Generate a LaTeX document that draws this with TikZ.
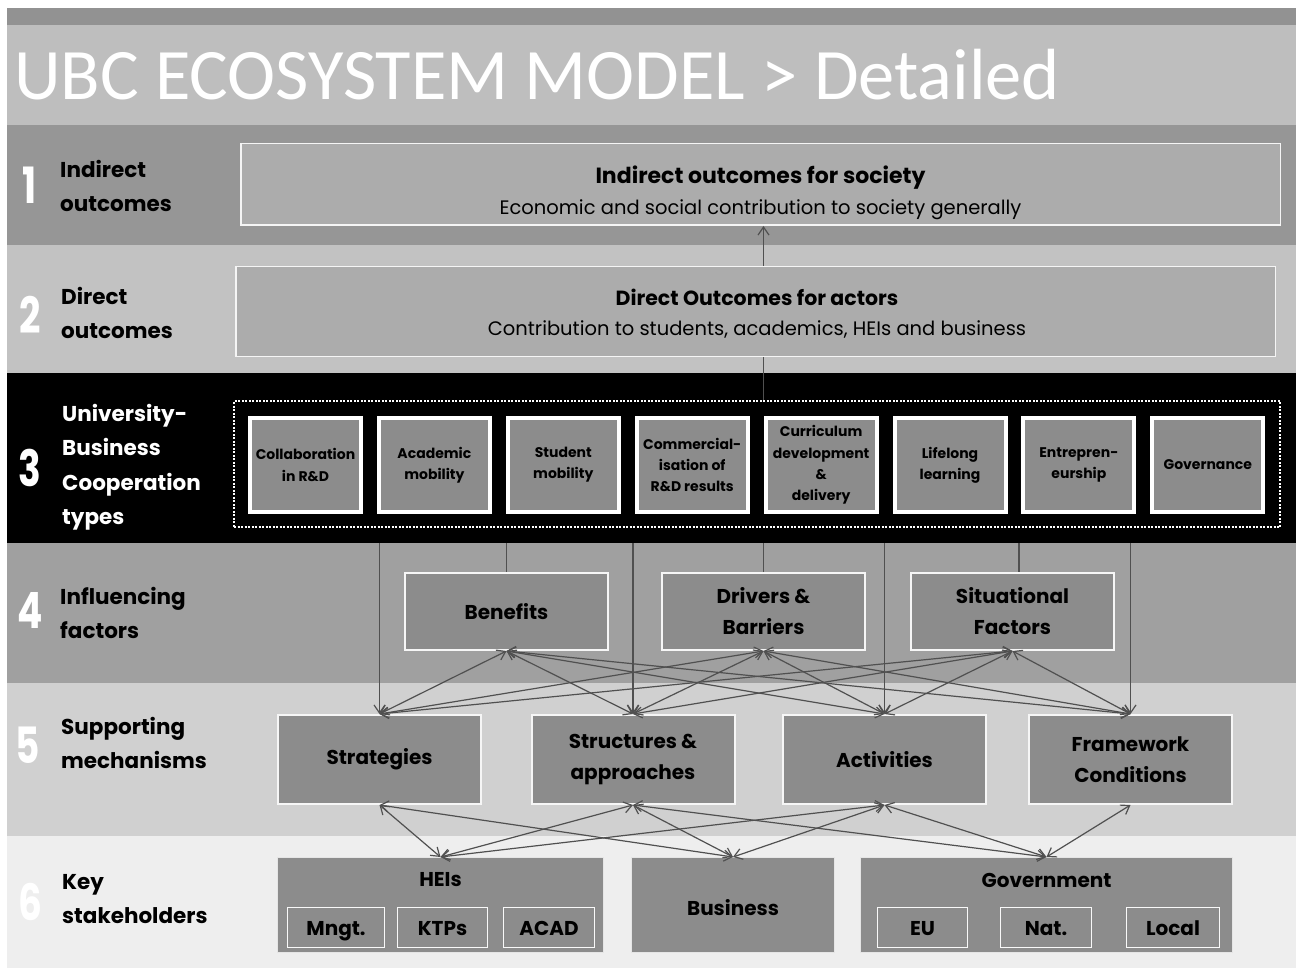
\documentclass[tikz,border=0pt]{standalone}
\usepackage{fontspec}
\setmainfont{Poppins}
\newfontfamily\titlefont{Carlito}
\newfontfamily\digitfont{Poppins}[FakeStretch=0.75]
\usetikzlibrary{arrows.meta}
\definecolor{c0}{HTML}{929292}
\definecolor{ct}{HTML}{BEBEBE}
\definecolor{c1}{HTML}{969696}
\definecolor{c2}{HTML}{C2C2C2}
\definecolor{c3}{HTML}{000000}
\definecolor{c4}{HTML}{A0A0A0}
\definecolor{c5}{HTML}{D0D0D0}
\definecolor{c6}{HTML}{EEEEEE}
\definecolor{boxg}{HTML}{8C8C8C}
\definecolor{outg}{HTML}{ACACAC}
\definecolor{lineg}{HTML}{505050}
\newcommand\setfs[2]{\fontsize{#1}{#2}\selectfont}
\tikzset{
  band/.style={fill=#1, draw=none, anchor=north west, inner sep=0pt, outer sep=0pt, minimum width=1289pt},
  outbox/.style={draw=white!92!gray, line width=1.5pt, fill=outg, inner sep=0pt, minimum width=1039.5pt},
  outtext/.style={inner sep=0pt, align=center, text=black},
  typebox/.style={draw=white, line width=4pt, fill=boxg, inner sep=0pt, align=center, minimum width=111pt, minimum height=94pt, font=\bfseries\setfs{14}{21.3}},
  factbox/.style={draw=white!93!gray, line width=2pt, fill=boxg, inner sep=0pt, align=center, minimum width=203pt, font=\bfseries\setfs{20}{31}},
  stakebox/.style={draw=white!80!gray, line width=1pt, fill=boxg, inner sep=0pt, minimum height=95pt},
  subbox/.style={draw=white!95!gray, line width=1.5pt, fill=boxg, inner sep=0pt, minimum height=40pt, text height=20pt, text depth=4pt, font=\bfseries\setfs{20}{24}},
  stakelab/.style={inner sep=0pt, font=\bfseries\setfs{20}{24}},
  rowlab/.style={anchor=west, inner sep=0pt, align=left, font=\bfseries\setfs{21.5}{34.5}},
  digit/.style={inner sep=0pt, text=white, font=\digitfont\bfseries\setfs{50}{50}},
  conn/.style={draw=lineg, line width=1.2pt},
  arr/.style={conn, -{Straight Barb[length=8pt,width=11pt]}},
  biarr/.style={conn, {Straight Barb[length=8pt,width=11pt]}-{Straight Barb[length=8pt,width=11pt]}},
}
\begin{document}
\begin{tikzpicture}[x=1pt,y=-1pt]
\useasboundingbox (0,0) rectangle (1296,968);
\fill[white] (0,0) rectangle (1296,968);
% bands
\node[band=c0, minimum height=17pt] (band0) at (7,8) {};
\node[band=ct, minimum height=100pt] (bandT) at (7,25) {};
\node[band=c1, minimum height=120pt] (band1) at (7,125) {};
\node[band=c2, minimum height=128pt] (band2) at (7,245) {};
\node[band=c3, minimum height=170pt] (band3) at (7,373) {};
\node[band=c4, minimum height=140pt] (band4) at (7,543) {};
\node[band=c5, minimum height=153pt] (band5) at (7,683) {};
\node[band=c6, minimum height=132pt] (band6) at (7,836) {};
% title
\node[anchor=base west, inner sep=0pt, text=white, font=\titlefont\setfs{72.5}{73}] (title) at (14,100) {UBC ECOSYSTEM MODEL > Detailed};
% row digits
\node[digit] (d1) at (30,185) {1};
\node[digit] (d2) at (30,315) {2};
\node[digit] (d3) at (30,468) {3};
\node[digit] (d4) at (30,610) {4};
\node[digit] (d5) at (28,745) {5};
\node[digit] (d6) at (30,902) {6};
% row labels
\node[rowlab] (l1) at (60,186) {Indirect\\outcomes};
\node[rowlab] (l2) at (61,313) {Direct\\outcomes};
\node[rowlab, text=white] (l3) at (62,467) {University-\\Business\\Cooperation\\types};
\node[rowlab] (l4) at (60,613) {Influencing\\factors};
\node[rowlab] (l5) at (61,743) {Supporting\\mechanisms};
\node[rowlab] (l6) at (62,899) {Key\\stakeholders};
% outcome boxes
\node[outbox, minimum height=81.5pt] (box1) at (760.5,184.5) {};
\node[outtext, font=\setfs{19.5}{31}] (box1t) at (760.5,193) {{\bfseries\setfs{22}{31}Indirect outcomes for society}\\Economic and social contribution to society generally};
\node[outbox, minimum height=89.5pt] (box2) at (755.5,311.5) {};
\node[outtext, font=\setfs{19.5}{30}] (box2t) at (757,314) {{\bfseries\setfs{20.5}{30}Direct Outcomes for actors}\\Contribution to students, academics, HEIs and business};
% cooperation types
\node[draw=white, line width=2pt, dash pattern=on 2pt off 1.5pt, minimum width=1046pt, minimum height=126pt, inner sep=0pt] (frame) at (757,464) {};
\node[typebox] (t1) at (305.5,465) {Collaboration\\in R\&D};
\node[typebox] (t2) at (434.4,465) {Academic\\mobility};
\node[typebox] (t3) at (563.3,465) {Student\\mobility};
\node[typebox] (t4) at (692.2,465) {Commercial-\\isation of\\R\&D results};
\node[typebox] (t5) at (821.1,465) {Curriculum\\development\\\&\\delivery};
\node[typebox] (t6) at (950,465) {Lifelong\\learning};
\node[typebox] (t7) at (1078.9,465) {Entrepren-\\eurship};
\node[typebox] (t8) at (1207.8,465) {Governance};
% influencing factors
\node[factbox, minimum height=77pt] (ben) at (506.5,611.5) {Benefits};
\node[factbox, minimum height=77pt] (drv) at (763.5,611.5) {Drivers \&\\Barriers};
\node[factbox, minimum height=77pt] (sit) at (1012.5,611.5) {Situational\\Factors};
% supporting mechanisms
\node[factbox, minimum height=89pt] (strat) at (379.5,759.5) {Strategies};
\node[factbox, minimum height=89pt] (struct) at (633,759.5) {Structures \&\\approaches};
\node[factbox, minimum height=89pt] (activ) at (884.5,759.5) {Activities};
\node[factbox, minimum height=89pt] (fwk) at (1130.5,759.5) {Framework\\Conditions};
% stakeholders
\node[stakebox, minimum width=326pt] (heis) at (440.5,905) {};
\node[stakebox, minimum width=203pt] (bus) at (733,905) {};
\node[stakebox, minimum width=372pt] (gov) at (1046.5,905) {};
\node[stakelab] (heisl) at (440.5,880) {HEIs};
\node[stakelab] (busl) at (733,908) {Business};
\node[stakelab] (govl) at (1046.5,880) {Government};
\node[subbox, minimum width=97pt] (mngt) at (336,927.5) {Mngt.};
\node[subbox, minimum width=90pt] (ktps) at (442.5,927.5) {KTPs};
\node[subbox, minimum width=91pt] (acad) at (549,927.5) {ACAD};
\node[subbox, minimum width=90pt] (eu) at (922.5,927.5) {EU};
\node[subbox, minimum width=91pt] (nat) at (1046,927.5) {Nat.};
\node[subbox, minimum width=93pt] (local) at (1173,927.5) {Local};
% connectors
\draw[arr] (box2.north -| drv) -- (box1.south -| drv);
\draw[conn] (frame.north -| drv) -- (box2.south -| drv);
\foreach \m in {strat,struct,activ,fwk}{\draw[arr] (band3.south -| \m) -- (\m.north);}
\foreach \f in {ben,drv}{\draw[conn] (band3.south -| \f) -- (\f.north);}
\draw[conn] ([xshift=6.5pt]band3.south -| sit) -- ([xshift=6.5pt]sit.north);
\foreach \f in {ben,drv,sit}{\foreach \m in {strat,struct,activ,fwk}{\draw[biarr] (\f.south) -- (\m.north);}}
\foreach \m/\s in {strat/heis,strat/bus,struct/heis,struct/bus,struct/gov,activ/heis,activ/bus,activ/gov,fwk/gov}{\draw[biarr] (\m.south) -- (\s.north);}
\end{tikzpicture}
\end{document}
